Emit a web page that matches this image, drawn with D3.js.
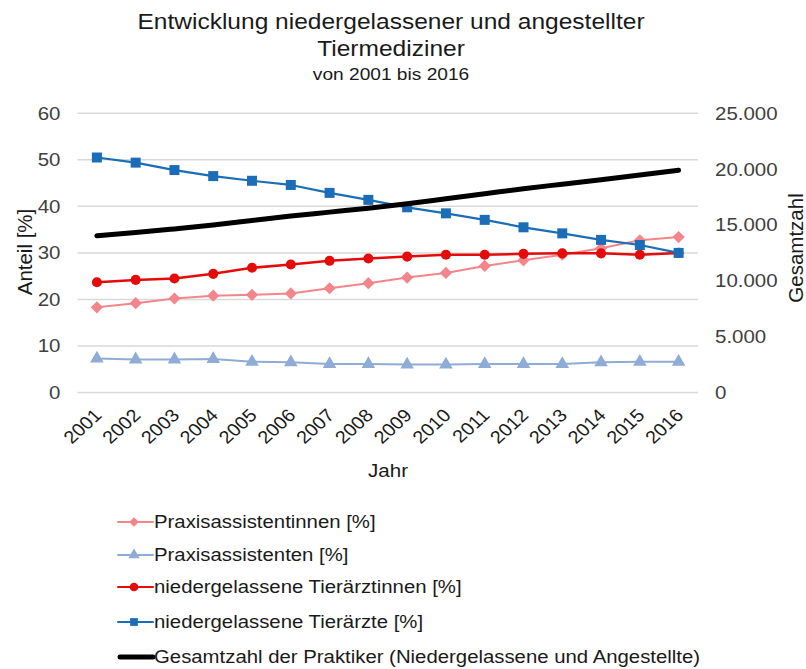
<!DOCTYPE html>
<html><head><meta charset="utf-8">
<script src="https://cdn.jsdelivr.net/npm/d3@7"></script>
<style>body{margin:0;background:#fff;} svg{display:block;font-family:"Liberation Sans",Arial,sans-serif;}</style>
</head><body><svg id="c" width="806" height="669"></svg>
<script>
const years = ["2001","2002","2003","2004","2005","2006","2007","2008","2009","2010","2011","2012","2013","2014","2015","2016"];
const praxisassistentinnen = [18.3,19.2,20.2,20.8,21.0,21.3,22.4,23.5,24.7,25.7,27.2,28.4,29.6,31.0,32.7,33.4];
const praxisassistenten = [7.3,7.1,7.1,7.2,6.6,6.5,6.1,6.1,6.0,6.0,6.1,6.1,6.1,6.5,6.6,6.6];
const tieraerztinnen = [23.7,24.2,24.5,25.5,26.8,27.5,28.3,28.8,29.2,29.6,29.6,29.8,29.9,29.9,29.6,30.0];
const tieraerzte = [50.5,49.4,47.8,46.5,45.5,44.6,42.9,41.4,39.8,38.5,37.1,35.5,34.2,32.8,31.7,30.0];
const gesamtzahl = [14040,14320,14650,15000,15400,15800,16150,16500,16900,17350,17800,18250,18650,19050,19480,19900];
const leftTicks = [0,10,20,30,40,50,60];
const rightTicks = [0,5000,10000,15000,20000,25000];
const legendLabels = ["Praxisassistentinnen [%]","Praxisassistenten [%]","niedergelassene Tierärztinnen [%]","niedergelassene Tierärzte [%]","Gesamtzahl der Praktiker (Niedergelassene und Angestellte)"];

const S = 1.1; // horizontal text stretch of the original
const svg = d3.select("#c");
const L=77.5, R=698, T=113.3, B=392.5;
const x = d3.scaleBand().domain(years).range([L,R]).padding(0);
const cx = d => x(d)+x.bandwidth()/2;
const y = d3.scaleLinear().domain([0,60]).range([B,T]);
const y2 = d3.scaleLinear().domain([0,25000]).range([B,T]);
const loc = d3.formatLocale({decimal:",",thousands:".",grouping:[3],currency:["","€"]});
const fmt = loc.format(",d");

function htext(px,py,txt,size,anchor){
  svg.append("g").attr("transform",`translate(${px},${py})`)
    .append("text").attr("transform",`scale(${S},1)`).attr("text-anchor",anchor||"middle")
    .attr("font-size",size).attr("fill","#1a1a1a").text(txt);
}
// title
htext(391,29,"Entwicklung niedergelassener und angestellter",22.3);
htext(391,56,"Tiermediziner",22.3);
htext(391,80,"von 2001 bis 2016",17.4);

// grid
svg.append("g").selectAll("line").data(leftTicks).join("line")
  .attr("x1",L).attr("x2",R).attr("y1",d=>y(d)).attr("y2",d=>y(d))
  .attr("stroke","#d9d9d9").attr("stroke-width",1.5);

// left axis
const ga = svg.append("g").attr("transform",`translate(${L-17},0)`)
  .call(d3.axisLeft(y).tickValues(leftTicks).tickSize(0).tickPadding(0));
ga.select(".domain").remove();
ga.selectAll("text").attr("x",0).attr("font-size",18.6).attr("fill","#404040").attr("font-family","Liberation Sans, Arial, sans-serif").attr("transform",`scale(${S},1)`);

// right axis
const gr = svg.append("g").attr("transform",`translate(${R+17},0)`)
  .call(d3.axisRight(y2).tickValues(rightTicks).tickFormat(fmt).tickSize(0).tickPadding(0));
gr.select(".domain").remove();
gr.selectAll("text").attr("x",0).attr("font-size",18.6).attr("fill","#404040").attr("font-family","Liberation Sans, Arial, sans-serif").attr("transform",`scale(${S},1)`);

// x axis
const gx = svg.append("g").attr("transform",`translate(0,${B})`)
  .call(d3.axisBottom(x).tickSize(0).tickPadding(0));
gx.select(".domain").remove();
gx.selectAll("text").attr("font-size",18).attr("fill","#1a1a1a").attr("font-family","Liberation Sans, Arial, sans-serif")
  .attr("text-anchor","end").attr("dy",null).attr("y",null)
  .attr("transform",`translate(6,24) scale(${S},1) rotate(-45)`);

// axis titles
svg.append("text").attr("transform","translate(32,252) rotate(-90)").attr("text-anchor","middle").attr("font-size",20.5).attr("fill","#1a1a1a").text("Anteil [%]");
svg.append("text").attr("transform","translate(803,248) rotate(-90)").attr("text-anchor","middle").attr("font-size",20.5).attr("fill","#1a1a1a").text("Gesamtzahl");
htext(388,477,"Jahr",18.7);

const series = [
  {vals:praxisassistentinnen, color:"#f4858a", w:2, marker:"diamond", scale:y},
  {vals:praxisassistenten, color:"#8eacd6", w:2, marker:"triangle", scale:y},
  {vals:tieraerztinnen, color:"#e40b0b", w:2.5, marker:"circle", scale:y},
  {vals:tieraerzte, color:"#1a6db6", w:2.2, marker:"square", scale:y},
  {vals:gesamtzahl, color:"#000000", w:5, marker:null, scale:y2}
];
const sym = {
  diamond: d3.symbol().type(d3.symbolDiamond2).size(95),
  triangle: d3.symbol().type(d3.symbolTriangle).size(80),
  circle: d3.symbol().type(d3.symbolCircle).size(80),
  square: d3.symbol().type(d3.symbolSquare).size(100)
};
series.forEach(s=>{
  const line = d3.line().x((d,i)=>cx(years[i])).y(d=>s.scale(d));
  if(!s.marker) line.curve(d3.curveMonotoneX);
  svg.append("path").datum(s.vals).attr("d",line).attr("fill","none").attr("stroke",s.color).attr("stroke-width",s.w).attr("stroke-linecap","round").attr("stroke-linejoin","round");
  if(s.marker){
    svg.append("g").selectAll("path").data(s.vals).join("path")
      .attr("d",sym[s.marker]).attr("fill",s.color)
      .attr("transform",(d,i)=>`translate(${cx(years[i])},${s.scale(d)})`);
  }
});

// legend
const ly = [522,555,587,622,657];
const small = {diamond:d3.symbol().type(d3.symbolDiamond2).size(60),triangle:d3.symbol().type(d3.symbolTriangle).size(55),circle:d3.symbol().type(d3.symbolCircle).size(60),square:d3.symbol().type(d3.symbolSquare).size(60)};
series.forEach((s,i)=>{
  const g = svg.append("g").attr("transform",`translate(0,${ly[i]})`);
  g.append("line").attr("x1",s.marker?118:120).attr("x2",153).attr("y1",0).attr("y2",0).attr("stroke",s.color).attr("stroke-width",s.marker?2:5).attr("stroke-linecap","round");
  if(s.marker){
    g.append("path").attr("d",small[s.marker]).attr("fill",s.color).attr("transform","translate(134,0)");
  }
  g.append("g").attr("transform","translate(154,0)").append("text").attr("transform",`scale(${S},1)`)
    .attr("dy","0.35em").attr("font-size",18.5).attr("fill","#1a1a1a").text(legendLabels[i]);
});
</script></body></html>
